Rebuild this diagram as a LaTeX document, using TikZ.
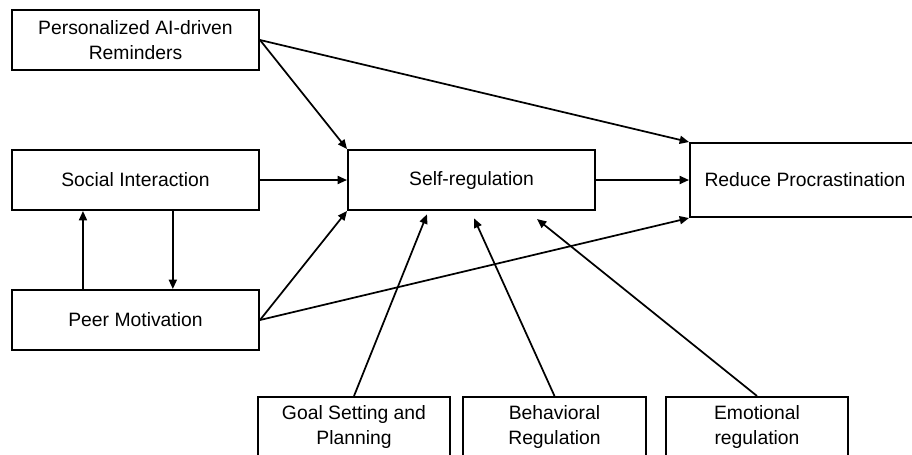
\documentclass[tikz,border=0pt]{standalone}
\usepackage{fontspec}
\setmainfont{Liberation Sans}
\usetikzlibrary{arrows.meta}

\begin{document}
\begin{tikzpicture}[x=0.75pt, y=-0.75pt, > = {Triangle[length=7pt,width=6pt]},
	box/.style = {draw, line width=1.5pt, inner sep=0pt, align=center,
		font=\fontsize{14.5}{18.75}\selectfont},
	link/.style = {->, line width=1.3pt}]
	\useasboundingbox (0,0) rectangle (912,454);
	\clip (0,0) rectangle (912,454);
	
	\node[box, minimum width=247*0.75pt, minimum height=60*0.75pt] (par) at (135.5,40) {Personalized AI-driven\\Reminders};
	\node[box, minimum width=247*0.75pt, minimum height=60*0.75pt] (si) at (135.5,180) {Social Interaction};
	\node[box, minimum width=247*0.75pt, minimum height=60*0.75pt] (pm) at (135.5,320) {Peer Motivation};
	\node[box, minimum width=247*0.75pt, minimum height=60*0.75pt] (sr) at (471.5,180) {Self-regulation};
	\node[box, minimum width=230*0.75pt, minimum height=74*0.75pt] (rp) at (805,180) {Reduce Procrastination};
	
	% bottom row, cut by the page edge
	\node[box, minimum width=192*0.75pt, minimum height=60*0.75pt] (goal) at (354,427) {Goal Setting and\\Planning};
	\node[box, minimum width=183*0.75pt, minimum height=60*0.75pt] (beh) at (554.5,427) {Behavioral\\Regulation};
	\node[box, minimum width=182*0.75pt, minimum height=60*0.75pt] (emo) at (757,427) {Emotional\\regulation};
	
	\draw[link] (par.east) -- (sr.north west);
	\draw[link] (par.east) -- (rp.north west);
	\draw[link] (si.east) -- (sr.west);
	\draw[link] (pm.east) -- (sr.south west);
	\draw[link] (pm.east) -- (rp.south west);
	\draw[link] (sr.east) -- (rp.west);
	
	\draw[link] ([xshift=28pt]si.south) -- ([xshift=28pt]pm.north); % down
	\draw[link] ([xshift=-39.4pt]pm.north) -- ([xshift=-39.4pt]si.south); % up
	
	\draw[link] (goal.north) -- ([xshift=-33.4pt, yshift=-2.5pt]sr.south);
	\draw[link] (beh.north) -- ([xshift=1.9pt, yshift=-5.5pt]sr.south);
	\draw[link] (emo.north) -- ([xshift=49.1pt, yshift=-6pt]sr.south);
\end{tikzpicture}
\end{document}
